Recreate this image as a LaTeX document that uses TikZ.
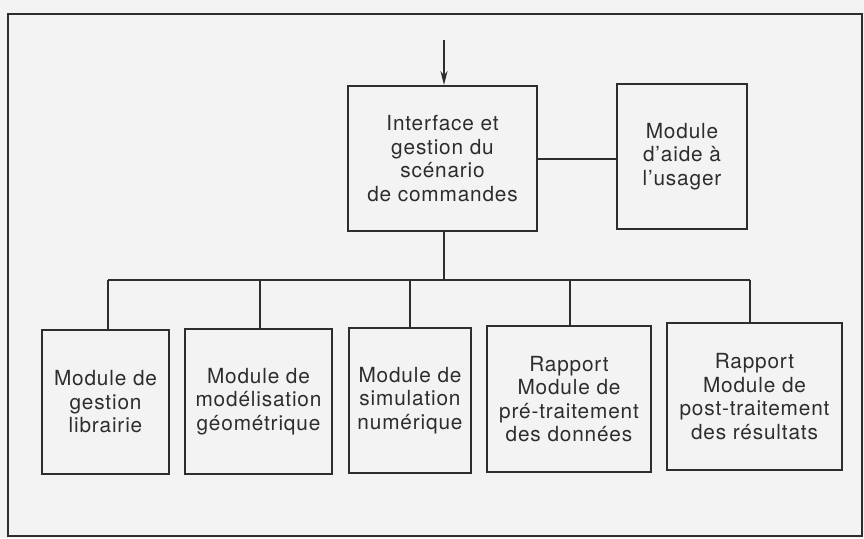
\documentclass[tikz,border=0pt]{standalone}
\usepackage{fontspec}
\setmainfont{TeX Gyre Heros}[LetterSpace=4]
\usetikzlibrary{arrows.meta}
\definecolor{ink}{RGB}{45,45,45}
\definecolor{paper}{RGB}{243,243,243}
\tikzset{
  box/.style={draw=ink, line width=2pt, text=ink, align=center, inner sep=0pt,
    font=\fontsize{20.8}{23.5}\selectfont},
  wire/.style={draw=ink, line width=2pt},
}
\begin{document}
\begin{tikzpicture}[x=1pt,y=-1pt]
\useasboundingbox (0,0) rectangle (864,538);
\fill[paper] (0,0) rectangle (864,538);
\draw[ink, line width=2.5pt] (8,14) rectangle (862,536);
% top boxes
\node[box, minimum width=189pt, minimum height=145pt] (iface) at (442.5,158.5)
  {Interface et\\gestion du\\scénario\\de commandes};
\node[box, minimum width=130pt, minimum height=145pt] (aide) at (682,156.5)
  {Module\\d'aide à\\l'usager};
% bottom boxes
\node[box, minimum width=127pt, minimum height=144pt] (b1) at (105.5,402)
  {Module de\\gestion\\librairie};
\node[box, minimum width=147pt, minimum height=145pt] (b2) at (258.5,401.5)
  {Module de\\modélisation\\géométrique};
\node[box, minimum width=122pt, minimum height=145pt] (b3) at (410,400.5)
  {Module de\\simulation\\numérique};
\node[box, minimum width=164pt, minimum height=146pt] (b4) at (569,399)
  {Rapport\\Module de\\pré-traitement\\des données};
\node[box, minimum width=175pt, minimum height=147pt] (b5) at (754.5,396.5)
  {Rapport\\Module de\\post-traitement\\des résultats};
% connectors
\coordinate (in) at (444,40);
\draw[wire, -{Stealth[length=14pt,width=7pt]}] (in) -- (iface.north -| in);
\draw[wire] (iface.east |- 0,159) -- (aide.west |- 0,159);
\coordinate (bus) at (444,280);
\draw[wire] (iface.south -| bus) -- (bus);
\draw[wire] (108,280) -- (750,280);
\foreach \n/\x in {b1/108,b2/260,b3/410,b4/570,b5/750}
  \draw[wire] (\x,280) -- (\n.north -| \x,0);
\end{tikzpicture}
\end{document}
